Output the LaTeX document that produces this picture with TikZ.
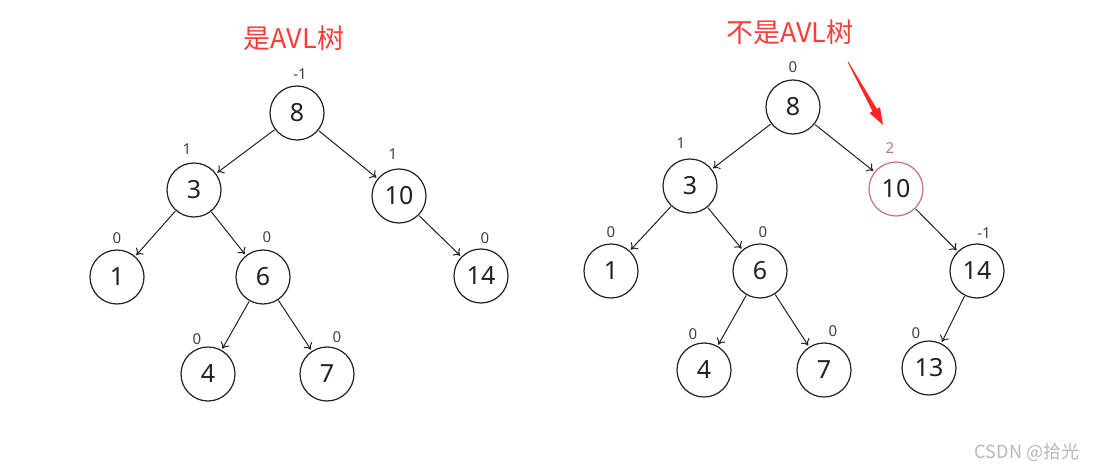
\documentclass[tikz,border=0pt]{standalone}
\usepackage{fontspec}
\setmainfont{Noto Sans}
\newfontfamily\cjk{Noto Sans CJK SC}
\usetikzlibrary{arrows.meta}
\definecolor{titlered}{HTML}{FF3B3B}
\definecolor{softred}{HTML}{C87272}
\definecolor{ink}{HTML}{222222}
\definecolor{wm}{HTML}{B8B8B8}
\begin{document}
\begin{tikzpicture}[x=1pt,y=-1pt,
  nd/.style={circle, draw=ink, line width=1.2pt, minimum size=54pt, inner sep=0pt, text=ink, font=\fontsize{25}{25}\selectfont},
  bal/.style={text=ink!85, inner sep=0pt, font=\fontsize{15}{15}\selectfont},
  conn/.style={draw=ink, line width=1pt, -{To[length=6pt,width=10pt]}, shorten >=1.5pt, shorten <=0.5pt},
  ttl/.style={text=titlered, inner sep=0pt, font=\cjk\fontsize{27}{27}\selectfont}]
\useasboundingbox (0,0) rectangle (1098,468);
\fill[white] (0,0) rectangle (1098,468);

% ---------- left tree ----------
\node[ttl] (t1) at (294,38) {是AVL树};
\node[nd] (a8) at (297,113) {8};
\node[nd] (a3) at (194,190) {3};
\node[nd] (a10) at (399,196) {10};
\node[nd] (a1) at (117,277) {1};
\node[nd] (a6) at (263,277) {6};
\node[nd] (a14) at (481,276) {14};
\node[nd] (a4) at (208,374) {4};
\node[nd] (a7) at (327,374) {7};

\node[bal] (ba8) at (300,74) {-1};
\node[bal] (ba3) at (187,149) {1};
\node[bal] (ba10) at (393,154) {1};
\node[bal] (ba1) at (117,238) {0};
\node[bal] (ba6) at (267,237) {0};
\node[bal] (ba14) at (485,238) {0};
\node[bal] (ba4) at (197,339) {0};
\node[bal] (ba7) at (337,337) {0};

\draw[conn] (a8) -- (a3);
\draw[conn] (a8) -- (a10);
\draw[conn] (a3) -- (a1);
\draw[conn] (a3) -- (a6);
\draw[conn] (a10) -- (a14);
\draw[conn] (a6) -- (a4);
\draw[conn] (a6) -- (a7);

% ---------- right tree ----------
\node[ttl] (t2) at (790,32) {不是AVL树};
\node[nd] (b8) at (793,107) {8};
\node[nd] (b3) at (690,186) {3};
\node[nd, draw=softred] (b10) at (896,189) {10};
\node[nd] (b1) at (611,271) {1};
\node[nd] (b6) at (760,271) {6};
\node[nd] (b14) at (977,271) {14};
\node[nd] (b4) at (704,370) {4};
\node[nd] (b7) at (824,370) {7};
\node[nd] (b13) at (929,368) {13};

\node[bal] (bb8) at (793,67) {0};
\node[bal] (bb3) at (681,143) {1};
\node[bal, text=softred] (bb10) at (890,148) {2};
\node[bal] (bb1) at (611,232) {0};
\node[bal] (bb6) at (763,232) {0};
\node[bal] (bb14) at (984,233) {-1};
\node[bal] (bb4) at (693,334) {0};
\node[bal] (bb7) at (833,331) {0};
\node[bal] (bb13) at (916,333) {0};

\draw[conn] (b8) -- (b3);
\draw[conn] (b8) -- (b10);
\draw[conn] (b3) -- (b1);
\draw[conn] (b3) -- (b6);
\draw[conn] (b10) -- (b14);
\draw[conn] (b6) -- (b4);
\draw[conn] (b6) -- (b7);
\draw[conn] (b14) -- (b13);

% red pointer arrow (tapered)
\fill[red!85!white] (847.6,62.2) -- (848.4,61.8) -- (876.9,108.9) -- (880,107.2) -- (883,125) -- (869.5,113) -- (872.5,111.3) -- cycle;

% watermark
\node[text=wm, inner sep=0pt, font=\cjk\fontsize{18}{18}\selectfont] (wmk) at (1027,452) {CSDN @拾光};
\end{tikzpicture}
\end{document}
